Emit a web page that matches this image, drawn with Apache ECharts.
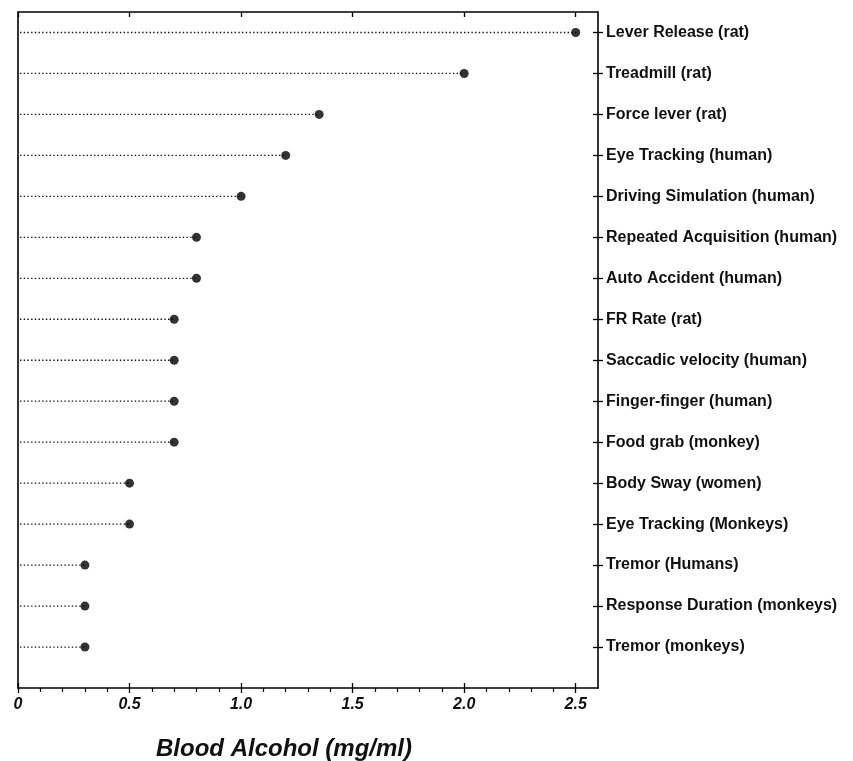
<!DOCTYPE html>
<html>
<head>
<meta charset="utf-8">
<script src="https://cdn.jsdelivr.net/npm/echarts@6/dist/echarts.min.js"></script>
<style>
  html, body { margin: 0; padding: 0; background: #fff; }
  #chart { width: 853px; height: 761px; }
</style>
</head>
<body>
<div id="chart"></div>
<script>
var categories = [
    'Lever Release (rat)',
    'Treadmill (rat)',
    'Force lever (rat)',
    'Eye Tracking (human)',
    'Driving Simulation (human)',
    'Repeated Acquisition (human)',
    'Auto Accident (human)',
    'FR Rate (rat)',
    'Saccadic velocity (human)',
    'Finger-finger (human)',
    'Food grab (monkey)',
    'Body Sway (women)',
    'Eye Tracking (Monkeys)',
    'Tremor (Humans)',
    'Response Duration (monkeys)',
    'Tremor (monkeys)'
];
var values = [2.50, 2.00, 1.35, 1.20, 1.00, 0.80, 0.80, 0.70, 0.70, 0.70, 0.70, 0.50, 0.50, 0.30, 0.30, 0.30];
var xTicks = [0, 0.5, 1.0, 1.5, 2.0, 2.5];

var rows = categories.map(function (c, i) { return i; });
var points = values.map(function (v, i) { return [v, i]; });

var ink = '#000';
var font = "'Liberation Sans', Arial, Helvetica, sans-serif";

var chart = echarts.init(document.getElementById('chart'), null, {renderer: 'canvas'});

chart.setOption({
    backgroundColor: '#fff',
    animation: false,
    title: {
        text: 'Blood Alcohol (mg/ml)',
        left: 151,
        top: 732,
        textStyle: { fontFamily: font, fontStyle: 'italic', fontWeight: 'bold', fontSize: 24, color: '#111' }
    },
    grid: { left: 18, right: 255, top: 12, bottom: 73 },
    xAxis: [
        {   // bottom axis with labels, outward ticks
            type: 'value', position: 'bottom', min: 0, max: 2.6, interval: 0.5,
            axisLine: { onZero: false, lineStyle: { color: ink, width: 1.6 } },
            axisTick: { show: true, length: 5, lineStyle: { color: ink, width: 1.3 }, customValues: xTicks },
            minorTick: { show: true, splitNumber: 5, length: 4, lineStyle: { color: ink, width: 1.2 } },
            splitLine: { show: false },
            axisLabel: {
                customValues: xTicks,
                margin: 9,
                color: '#111', fontFamily: font, fontStyle: 'italic', fontWeight: 'bold', fontSize: 16,
                formatter: function (v) { return v === 0 ? '0' : v.toFixed(1); }
            }
        },
        {   // inward half of the crosses
            type: 'value', position: 'bottom', min: 0, max: 2.6, interval: 0.5,
            axisLine: { show: false, onZero: false },
            axisTick: { show: true, inside: true, length: 5, lineStyle: { color: ink, width: 1.3 }, customValues: xTicks },
            axisLabel: { show: false },
            splitLine: { show: false }
        },
        {   // top frame
            type: 'value', position: 'top', min: 0, max: 2.6, interval: 0.5,
            axisLine: { onZero: false, lineStyle: { color: ink, width: 1.6 } },
            axisTick: { show: true, inside: true, length: 5, lineStyle: { color: ink, width: 1.3 }, customValues: xTicks },
            axisLabel: { show: false },
            splitLine: { show: false }
        }
    ],
    yAxis: [
        {   // right axis with category names
            type: 'value', position: 'right', inverse: true, min: -0.5, max: 16,
            axisLine: { onZero: false, lineStyle: { color: ink, width: 1.6 } },
            axisTick: { show: true, length: 5, lineStyle: { color: ink, width: 1.3 }, customValues: rows },
            splitLine: { show: false },
            axisLabel: {
                customValues: rows,
                margin: 8,
                color: '#111', fontFamily: font, fontWeight: 'bold', fontSize: 16,
                formatter: function (v) { return categories[v] || ''; }
            }
        },
        {
            type: 'value', position: 'right', inverse: true, min: -0.5, max: 16,
            axisLine: { show: false, onZero: false },
            axisTick: { show: true, inside: true, length: 5, lineStyle: { color: ink, width: 1.3 }, customValues: rows },
            axisLabel: { show: false },
            splitLine: { show: false }
        },
        {   // left frame
            type: 'value', position: 'left', inverse: true, min: -0.5, max: 16,
            axisLine: { show: true, onZero: false, lineStyle: { color: ink, width: 1.6 } },
            axisTick: { show: false },
            axisLabel: { show: false },
            splitLine: { show: false }
        }
    ],
    series: [
        {
            // dotted leader from 0 to each value
            type: 'custom',
            xAxisIndex: 0, yAxisIndex: 0,
            data: points,
            renderItem: function (params, api) {
                var a = api.coord([0, api.value(1)]);
                var b = api.coord([api.value(0), api.value(1)]);
                return {
                    type: 'line',
                    shape: { x1: a[0] + 2, y1: a[1], x2: b[0], y2: b[1] },
                    style: { stroke: '#111', lineWidth: 1.3, lineDash: [1.4, 2.3] }
                };
            }
        },
        {
            type: 'scatter',
            xAxisIndex: 0, yAxisIndex: 0,
            symbol: 'circle', symbolSize: 9,
            itemStyle: { color: '#000' },
            data: points
        }
    ]
});
</script>
</body>
</html>
